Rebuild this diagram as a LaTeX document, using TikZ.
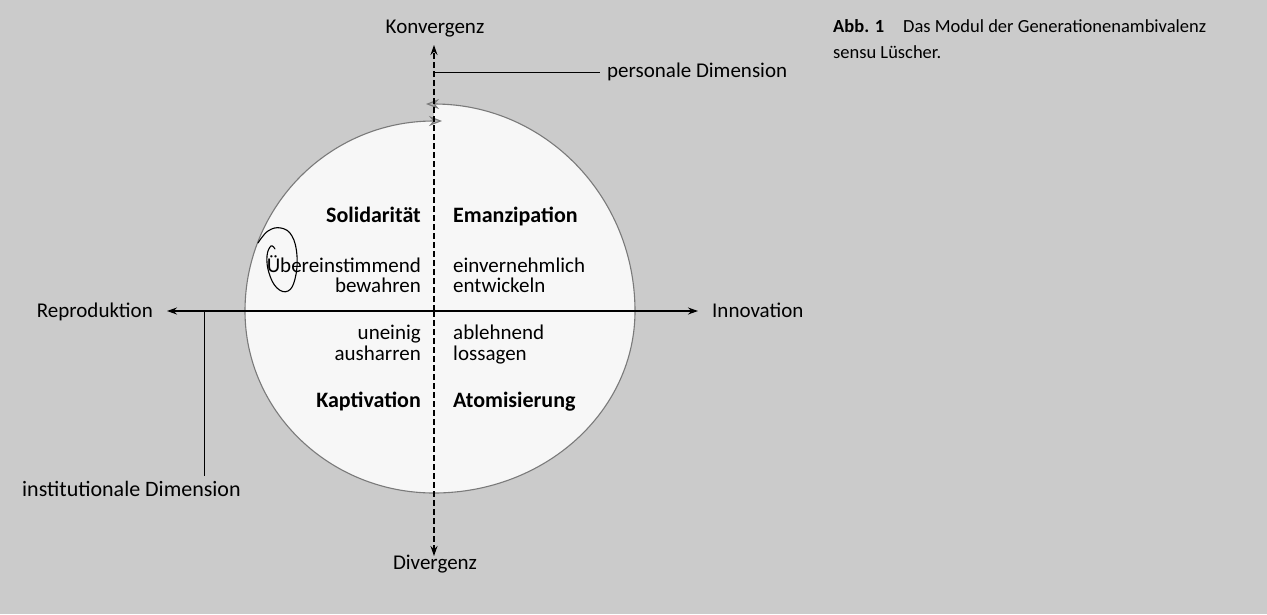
\documentclass[tikz,border=0pt]{standalone}
\usepackage{fontspec}
\setmainfont{Carlito}
\usetikzlibrary{arrows.meta}
\definecolor{bg}{HTML}{CBCBCB}
\definecolor{inner}{HTML}{F7F7F7}
\definecolor{ring}{HTML}{7A7A7A}
\begin{document}
\begin{tikzpicture}[x=1pt,y=-1pt,
  lbl/.style={inner sep=0pt, font=\fontsize{21}{21}\selectfont},
  boldlbl/.style={inner sep=0pt, font=\fontsize{22}{22}\selectfont\bfseries},
  caplbl/.style={inner sep=0pt, font=\fontsize{18.5}{18.5}\selectfont},
  axis/.style={line width=1.3pt, black},
  dashaxis/.style={line width=1.2pt, black, dash pattern=on 6pt off 3pt},
  thin/.style={line width=1pt, black},
  ringline/.style={line width=1.1pt, ring},
  tip/.style={-{Stealth[length=10pt,width=7pt]}},
  ringtip/.style={-{Stealth[length=13pt,width=10pt,fill=ring!55]}}
]
\useasboundingbox (0,0) rectangle (1267,614);
\fill[bg] (0,0) rectangle (1267,614);

% circle points
\coordinate (B)  at (434,493);
\coordinate (L)  at (245,311);
\coordinate (R)  at (635,311);
\coordinate (TL) at (442,121);
\coordinate (TR) at (426,104);

\fill[inner] (B) .. controls (329.6,493) and (245,411.5) .. (L)
  .. controls (245,206) and (329.6,121) .. (434,121) -- (434,104)
  .. controls (545,104) and (635,196.7) .. (R)
  .. controls (635,411.5) and (545,493) .. (B) -- cycle;

\draw[ringline, ringtip] (B) .. controls (329.6,493) and (245,411.5) .. (L)
  .. controls (245,206) and (329.6,121) .. (TL);
\draw[ringline, ringtip] (B) .. controls (545,493) and (635,411.5) .. (R)
  .. controls (635,196.7) and (545,104) .. (TR);

% axes
\coordinate (ktip) at (434,45);
\coordinate (dtip) at (434,556);
\coordinate (rtip) at (167,311);
\coordinate (itip) at (698,311);
\coordinate (org) at (434,311);
\draw[dashaxis, tip] (org) -- (ktip);
\draw[dashaxis, tip] (org) -- (dtip);
\draw[axis, {Stealth[length=10pt,width=7pt]}-{Stealth[length=10pt,width=7pt]}] (rtip) -- (itip);

% dimension lines
\coordinate (pstart) at (435,72);
\coordinate (pend) at (600,72);
\draw[thin] (pstart) -- (pend);
\coordinate (istart) at (204,311);
\coordinate (iend) at (204,476);
\draw[thin] (istart) -- (iend);

% axis labels
\node[lbl, anchor=base] (konv) at (435,33) {Konvergenz};
\node[lbl, anchor=base] (div) at (435,569) {Divergenz};
\node[lbl, anchor=base east] (repro) at (153,317) {Reproduktion};
\node[lbl, anchor=base west] (innov) at (712,317) {Innovation};
\node[lbl, anchor=base west] (pers) at (607,77) {personale Dimension};
\node[lbl, anchor=base west, font=\fontsize{22}{22}\selectfont] (inst) at (22,496) {institutionale Dimension};

% quadrant labels
\node[boldlbl, anchor=base east] (sol) at (421,222) {Solidarität};
\node[boldlbl, anchor=base west] (eman) at (453,222) {Emanzipation};
\node[lbl, anchor=base east] (ueb) at (421,272) {Übereinstimmend};
\node[lbl, anchor=base east] (bew) at (421,292) {bewahren};
\node[lbl, anchor=base west] (einv) at (453,272) {einvernehmlich};
\node[lbl, anchor=base west] (entw) at (453,292) {entwickeln};
\node[lbl, anchor=base east] (unei) at (421,339) {uneinig};
\node[lbl, anchor=base east] (aush) at (421,360) {ausharren};
\node[lbl, anchor=base west] (ablh) at (453,339) {ablehnend};
\node[lbl, anchor=base west] (loss) at (453,360) {lossagen};
\node[boldlbl, anchor=base east] (kapt) at (421,407) {Kaptivation};
\node[boldlbl, anchor=base west] (atom) at (453,407) {Atomisierung};

% caption
\node[caplbl, anchor=base west, font=\fontsize{18.5}{18.5}\selectfont\bfseries] (abb) at (833,32) {Abb. 1};
\node[caplbl, anchor=base west] (cap1) at (903,32) {Das Modul der Generationenambivalenz};
\node[caplbl, anchor=base west] (cap2) at (833,58) {sensu Lüscher.};

% hand-drawn spiral
\draw[line width=1.1pt, black, line cap=round] plot[smooth, tension=0.7] coordinates
  {(258,243) (268,231) (281,228) (292,236) (297,256) (295,279) (288,291) (277,288) (269,273) (267,256) (271,246) (275,249)};
\end{tikzpicture}
\end{document}
